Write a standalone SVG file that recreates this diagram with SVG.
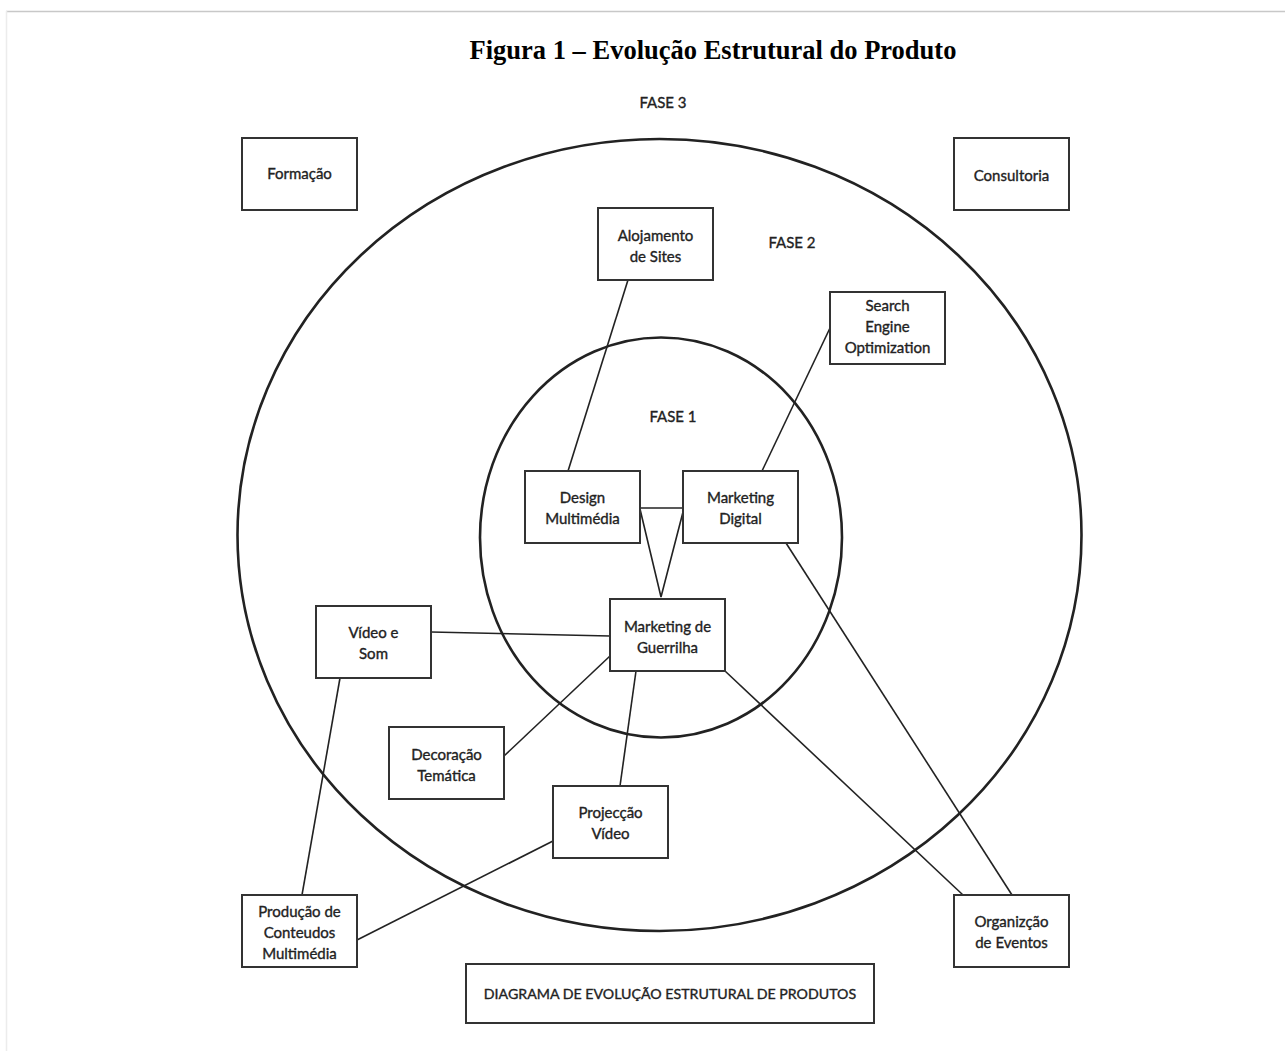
<svg xmlns="http://www.w3.org/2000/svg" width="1285" height="1051" viewBox="0 0 1285 1051">
<style>
.box{fill:#fff;stroke:#333;stroke-width:2}
.lbl{font-family:Lato,"Open Sans","Liberation Sans",sans-serif;font-size:15px;fill:#222;stroke:#222;stroke-width:0.35;text-anchor:middle}
.small{font-size:14.2px}
.conn{stroke:#222;stroke-width:1.6;fill:none}
.ring{stroke:#222;stroke-width:2.6;fill:none}
</style>
<rect width="1285" height="1051" fill="#fff"/>
<line x1="6" y1="11.5" x2="1285" y2="11.5" stroke="#c8c8c8" stroke-width="1.5"/>
<line x1="6.5" y1="11" x2="6.5" y2="1051" stroke="#ececec" stroke-width="1.5"/>
<text x="713" y="59" font-family="'Liberation Serif',serif" font-weight="bold" font-size="26.5" text-anchor="middle" fill="#000">Figura 1 – Evolução Estrutural do Produto</text>

<g id="rings">
<ellipse class="ring" cx="659.5" cy="535" rx="422" ry="396"/>
<ellipse class="ring" cx="661" cy="537.5" rx="181" ry="200"/>
<text class="lbl" x="663" y="108">FASE 3</text>
<text class="lbl" x="792" y="248">FASE 2</text>
<text class="lbl" x="673" y="422">FASE 1</text>
</g>

<g id="connectors">
<line class="conn" x1="628" y1="280" x2="568" y2="471"/>
<line class="conn" x1="830" y1="328" x2="762" y2="471"/>
<line class="conn" x1="640" y1="508" x2="683" y2="508"/>
<polyline class="conn" points="640,509 661,597 683,512"/>
<line class="conn" x1="431" y1="632" x2="610" y2="636"/>
<line class="conn" x1="504" y1="756" x2="610" y2="656"/>
<line class="conn" x1="636" y1="671" x2="620" y2="786"/>
<line class="conn" x1="725" y1="671" x2="963" y2="895"/>
<line class="conn" x1="786" y1="543" x2="1012" y2="895"/>
<line class="conn" x1="340" y1="678" x2="302" y2="895"/>
<line class="conn" x1="553" y1="841" x2="357" y2="940"/>
</g>

<g id="formacao"><rect class="box" x="242" y="138" width="115" height="72"/><text class="lbl" x="299.5" y="179">Formação</text></g>
<g id="consultoria"><rect class="box" x="954" y="138" width="115" height="72"/><text class="lbl" x="1011.5" y="181">Consultoria</text></g>
<g id="alojamento"><rect class="box" x="598" y="208" width="115" height="72"/><text class="lbl" x="655.5" y="241">Alojamento</text><text class="lbl" x="655.5" y="262">de Sites</text></g>
<g id="seo"><rect class="box" x="830" y="292" width="115" height="72"/><text class="lbl" x="887.5" y="311">Search</text><text class="lbl" x="887.5" y="332">Engine</text><text class="lbl" x="887.5" y="353">Optimization</text></g>
<g id="design"><rect class="box" x="525" y="471" width="115" height="72"/><text class="lbl" x="582.5" y="503">Design</text><text class="lbl" x="582.5" y="524">Multimédia</text></g>
<g id="digital"><rect class="box" x="683" y="471" width="115" height="72"/><text class="lbl" x="740.5" y="503">Marketing</text><text class="lbl" x="740.5" y="524">Digital</text></g>
<g id="guerrilha"><rect class="box" x="610" y="599" width="115" height="72"/><text class="lbl" x="667.5" y="632">Marketing de</text><text class="lbl" x="667.5" y="653">Guerrilha</text></g>
<g id="video-som"><rect class="box" x="316" y="606" width="115" height="72"/><text class="lbl" x="373.5" y="638">Vídeo e</text><text class="lbl" x="373.5" y="659">Som</text></g>
<g id="decoracao"><rect class="box" x="389" y="727" width="115" height="72"/><text class="lbl" x="446.5" y="760">Decoração</text><text class="lbl" x="446.5" y="781">Temática</text></g>
<g id="projeccao"><rect class="box" x="553" y="786" width="115" height="72"/><text class="lbl" x="610.5" y="818">Projecção</text><text class="lbl" x="610.5" y="839">Vídeo</text></g>
<g id="producao"><rect class="box" x="242" y="895" width="115" height="72"/><text class="lbl" x="299.5" y="917">Produção de</text><text class="lbl" x="299.5" y="938">Conteudos</text><text class="lbl" x="299.5" y="959">Multimédia</text></g>
<g id="organizacao"><rect class="box" x="954" y="895" width="115" height="72"/><text class="lbl" x="1011.5" y="927">Organizção</text><text class="lbl" x="1011.5" y="948">de Eventos</text></g>
<g id="legenda"><rect class="box" x="466" y="964" width="408" height="59"/><text class="lbl small" x="670" y="999">DIAGRAMA DE EVOLUÇÃO ESTRUTURAL DE PRODUTOS</text></g>
</svg>
